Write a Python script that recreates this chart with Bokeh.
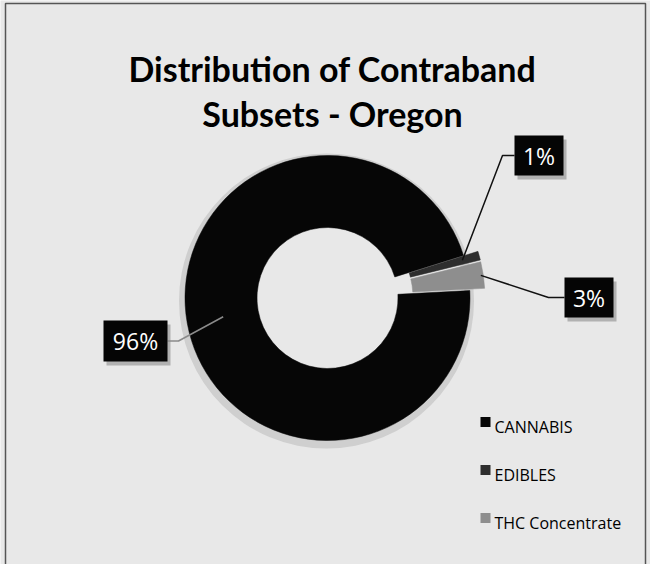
import math
from bokeh.plotting import figure
from bokeh.models import Range1d
from bokeh.core.properties import value
from bokeh.embed import file_html
from bokeh.resources import INLINE

# ---- data ----
categories = ["CANNABIS", "EDIBLES", "THC Concentrate"]
shares = [96, 1, 3]
pct_labels = ["96%", "1%", "3%"]
colors = ["#060606", "#2e2e2e", "#8e8e8e"]
title_lines = ["Distribution of Contraband", "Subsets - Oregon"]

# ---- layout (reference pixel coordinates) ----
W, H = 650, 564
def Y(py):
    return H - py

CX, CY = 327, Y(297.5)
R_OUT, R_IN = 142.5, 70.5
START_DEG = 3.0          # where the first slice begins, slices run clockwise
explode = [0, 15, 15]

box_centers = [(135, 340.5), (538.5, 155), (588.5, 297)]
box_sizes = [(64, 41), (49, 40), (49, 40)]
elbows = [(178, 340.5), (502, 155), (548, 297)]
anchor_r = [106, 125, 140]
leader_colors = ["#8a8a8a", "#111111", "#111111"]

p = figure(width=W, height=H, x_range=Range1d(0, W), y_range=Range1d(0, H),
           output_backend="svg", toolbar_location=None, min_border=0,
           x_axis_location=None, y_axis_location=None)
p.grid.visible = False
p.background_fill_color = "#e8e8e8"
p.border_fill_color = "#e8e8e8"
p.outline_line_color = None

# frame of the scanned chart
p.line(x=[5, 5, 645, 645], y=[Y(566), Y(3), Y(3), Y(566)], line_color="#555555", line_width=1.5)

# title
for i, t in enumerate(title_lines):
    p.text(x=[332], y=[Y([68, 113][i])], text=[t], text_align="center",
           text_baseline="alphabetic", text_font=value("Lato"),
           text_font_style="bold", text_font_size="34px", text_color="#000000")

# donut
total = float(sum(shares))
cur = math.radians(START_DEG)
wedges = []
for s in shares:
    span = 2 * math.pi * s / total
    wedges.append((cur - span, cur))
    cur -= span

# soft halo
p.annulus(x=[CX - 1], y=[CY - 3], inner_radius=R_OUT - 4, outer_radius=R_OUT + 5,
          fill_color="#b5b5b5", fill_alpha=0.5, line_color=None)

anchors = []
for (a0, a1), col, ex, ar in zip(wedges, colors, explode, anchor_r):
    mid = (a0 + a1) / 2
    ox = CX + ex * math.cos(mid)
    oy = CY + ex * math.sin(mid)
    p.annular_wedge(x=[ox], y=[oy], inner_radius=R_IN, outer_radius=R_OUT,
                    start_angle=[a0], end_angle=[a1], fill_color=col,
                    line_color=col, line_width=0.5)
    anchors.append((ox + ar * math.cos(mid), oy + ar * math.sin(mid)))

# leader lines and label boxes
for (bx, by), (bw, bh), (ex_, ey_), (ax, ay), lc, lab in zip(
        box_centers, box_sizes, elbows, anchors, leader_colors, pct_labels):
    edge_x = bx - bw / 2 if ex_ < bx else bx + bw / 2
    p.line(x=[edge_x, ex_, ax], y=[Y(by), Y(ey_), ay], line_color=lc, line_width=1.5)
    p.rect(x=[bx + 3], y=[Y(by) - 4], width=bw, height=bh, fill_color="#8c8c8c",
           fill_alpha=0.6, line_color=None)
    p.rect(x=[bx], y=[Y(by)], width=bw, height=bh, fill_color="#050505", line_color=None)
    p.text(x=[bx], y=[Y(by)], text=[lab], text_align="center", text_baseline="middle",
           text_font=value("Open Sans"), text_font_size="23px", text_color="#ffffff")

# legend
leg_y = [426, 474, 522]
for cat, col, ly in zip(categories, colors, leg_y):
    p.rect(x=[485], y=[Y(ly - 4.5)], width=10, height=10, fill_color=col, line_color=None)
    p.text(x=[494], y=[Y(ly)], text=[cat], text_align="left", text_baseline="alphabetic",
           text_font=value("Open Sans"), text_font_size="16px", text_color="#000000")

open("out.html", "w").write(file_html(p, INLINE))
